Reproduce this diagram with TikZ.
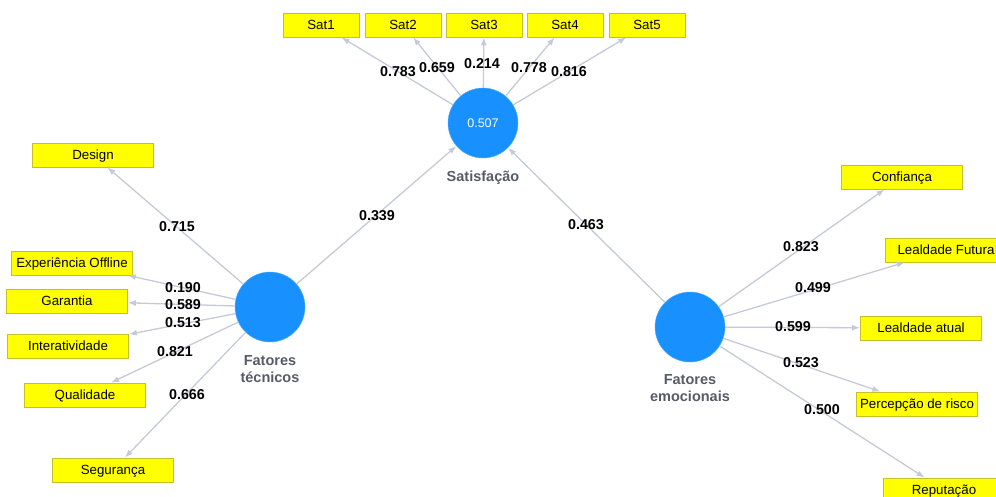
\documentclass[tikz,border=0pt]{standalone}
\usepackage{fontspec}
\setmainfont{Liberation Sans}
\usetikzlibrary{arrows.meta}

\definecolor{lvblue}{RGB}{24,145,255}
\definecolor{boxyellow}{RGB}{255,255,0}
\definecolor{boxedge}{RGB}{200,190,40}
\definecolor{pathgray}{RGB}{196,202,216}
\definecolor{namegray}{RGB}{85,92,102}

\begin{document}
\begin{tikzpicture}[
    x=1pt, y=-1pt,
    indicator/.style={
        rectangle,
        draw=boxedge,
        fill=boxyellow,
        line width=0.8pt,
        minimum width=121pt,
        minimum height=24pt,
        inner sep=0pt,
        text height=9.5pt,
        text depth=0pt,
        font=\fontsize{13.3}{15}\selectfont
    },
    satbox/.style={indicator, minimum width=76pt},
    construct/.style={
        circle,
        draw=lvblue!75!white,
        fill=lvblue,
        minimum size=70pt,
        inner sep=0pt,
        text=white,
        font=\fontsize{12.5}{14}\selectfont
    },
    cname/.style={text=namegray, font=\bfseries\fontsize{14.5}{17}\selectfont, align=center},
    weight/.style={font=\bfseries\fontsize{14.3}{16}\selectfont},
    line/.style={draw=pathgray, line width=1.3pt, -{Latex[length=8pt,width=6pt]}}
]
\useasboundingbox (0,0) rectangle (996,497);

% Constructs
\node[construct] (sat) at (483,123) {0.507};
\node[construct] (tec) at (270,307) {};
\node[construct] (emo) at (690,327) {};
\node[cname] (satname) at (483,178) {Satisfação};
\node[cname] (tecname) at (270,369) {Fatores\\técnicos};
\node[cname] (emoname) at (690,388) {Fatores\\emocionais};

% Satisfacao indicators
\node[satbox] (sat1) at (321,25) {Sat1};
\node[satbox] (sat2) at (403,25) {Sat2};
\node[satbox] (sat3) at (484,25) {Sat3};
\node[satbox] (sat4) at (565,25) {Sat4};
\node[satbox] (sat5) at (647,25) {Sat5};

% Fatores tecnicos indicators
\node[indicator] (design) at (93,155) {Design};
\node[indicator] (offline) at (72,263) {Experiência Offline};
\node[indicator] (garantia) at (67,301) {Garantia};
\node[indicator] (interat) at (68,346) {Interatividade};
\node[indicator] (qualidade) at (85,395) {Qualidade};
\node[indicator] (seguranca) at (113,470) {Segurança};

% Fatores emocionais indicators
\node[indicator] (confianca) at (902,177) {Confiança};
\node[indicator] (futura) at (946,250) {Lealdade Futura};
\node[indicator] (atual) at (921,328) {Lealdade atual};
\node[indicator] (risco) at (917,404) {Percepção de risco};
\node[indicator] (reputacao) at (944,490) {Reputação};

% Outer loadings
\path[line] (sat) -- (sat1);
\path[line] (sat) -- (sat2);
\path[line] (sat) -- (sat3);
\path[line] (sat) -- (sat4);
\path[line] (sat) -- (sat5);
\path[line] (tec) -- (design);
\path[line] (tec) -- (offline);
\path[line] (tec) -- (garantia);
\path[line] (tec) -- (interat);
\path[line] (tec) -- (qualidade);
\path[line] (tec) -- (seguranca);
\path[line] (emo) -- (confianca);
\path[line] (emo) -- (futura);
\path[line] (emo) -- (atual);
\path[line] (emo) -- (risco);
\path[line] (emo) -- (reputacao);

% Path coefficients
\path[line] (tec) -- (sat);
\path[line] (emo) -- (sat);

% Weights
\node[weight] (w1) at (398,72) {0.783};
\node[weight] (w2) at (437,68) {0.659};
\node[weight] (w3) at (482,64) {0.214};
\node[weight] (w4) at (529,68) {0.778};
\node[weight] (w5) at (569,72) {0.816};
\node[weight] (wdesign) at (177,227) {0.715};
\node[weight] (woffline) at (183,288) {0.190};
\node[weight] (wgarantia) at (183,305) {0.589};
\node[weight] (winterat) at (183,323) {0.513};
\node[weight] (wqualidade) at (175,352) {0.821};
\node[weight] (wseguranca) at (187,395) {0.666};
\node[weight] (wconfianca) at (801,247) {0.823};
\node[weight] (wfutura) at (813,288) {0.499};
\node[weight] (watual) at (793,327) {0.599};
\node[weight] (wrisco) at (801,363) {0.523};
\node[weight] (wreputacao) at (822,410) {0.500};
\node[weight] (wtec) at (377,216) {0.339};
\node[weight] (wemo) at (586,225) {0.463};

\end{tikzpicture}
\end{document}
